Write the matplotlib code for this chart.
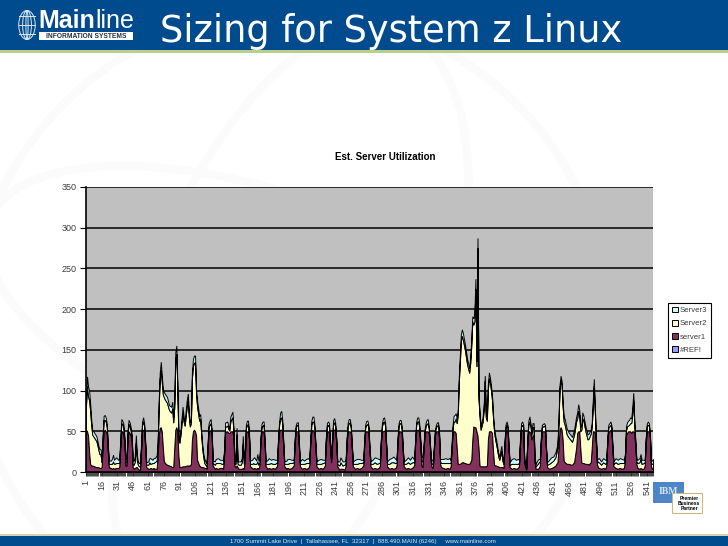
#!/usr/bin/env python3
# -*- coding: utf-8 -*-

import matplotlib
matplotlib.use("Agg")
import matplotlib.pyplot as plt
from matplotlib.patches import Ellipse, Rectangle

W, H = 728, 546

# values, one line per stretch of the chart
sample_no = [
    1, 2, 3, 4, 5, 6, 7, 9, 11, 12, 13, 14, 15,
    16, 17, 18, 19, 20, 21, 22, 23, 25, 26, 27, 28, 30, 32, 33,
    34, 35, 36, 37, 38, 39, 40, 41, 42, 43, 44, 45, 46, 47, 48, 49, 50, 51, 52, 53,
    54, 55, 56, 57, 58, 59, 61, 62, 63, 65, 66, 67, 69,
    70, 71, 72, 73, 74, 75, 76, 77, 79, 81, 83, 84, 85,
    86, 87, 88, 89, 90, 91, 92, 94, 95, 96, 98, 99, 100, 101, 102,
    103, 104, 105, 106, 107, 108, 110, 111, 112, 113, 114, 115, 116, 117,
    118, 119, 120, 121, 122, 123, 125, 126, 128, 130, 132, 133,
    134, 135, 136, 137, 138, 139, 140, 141, 142, 143, 144, 145, 146, 147, 148, 150, 151, 152, 153,
    154, 155, 156, 157, 158, 159, 161, 162, 163, 165, 166, 167,
    168, 169, 170, 171, 172, 173, 174, 176, 177, 179, 181, 183,
    185, 186, 187, 188, 189, 190, 191, 192, 194, 195, 197, 199,
    201, 202, 203, 204, 205, 206, 207, 209, 211, 213, 215,
    216, 217, 218, 219, 220, 221, 222, 223, 225, 227, 229,
    231, 232, 233, 234, 235, 236, 237, 238, 239, 240, 241, 242, 243, 245, 246, 248, 250,
    251, 252, 253, 254, 255, 256, 257, 258, 260, 262, 264, 266,
    268, 269, 270, 271, 272, 273, 274, 275, 277, 279, 281, 283,
    284, 285, 286, 287, 288, 289, 290, 291, 293, 295, 297, 299,
    300, 301, 302, 303, 304, 305, 306, 307, 309, 311, 313, 315,
    317, 318, 319, 320, 321, 322, 323, 324, 325, 326, 327, 328, 329, 330, 331, 332, 333, 334, 335,
    336, 337, 338, 339, 340, 341, 342, 343, 345, 347, 349, 351, 352,
    353, 354, 355, 356, 357, 358, 359, 360, 361, 362, 363, 364, 366, 368, 370,
    371, 372, 373, 374, 375, 376, 377, 378, 379, 380, 381, 383, 384, 385, 386, 387,
    388, 389, 390, 391, 392, 393, 394, 395, 396, 397, 398, 399, 400, 401, 402, 403,
    404, 405, 406, 407, 408, 409, 411, 413, 415, 417,
    418, 419, 420, 421, 422, 423, 424, 425,
    426, 427, 428, 429, 430, 431, 432, 433, 434, 436, 437, 438,
    439, 440, 441, 442, 443, 444, 445, 447, 449, 451, 453, 454, 455,
    456, 457, 458, 459, 460, 461, 462, 464, 466, 468, 469, 471,
    473, 474, 475, 476, 477, 478, 479, 480, 482, 484, 485, 487,
    488, 489, 490, 491, 492, 493, 494, 495, 497, 499, 501,
    502, 503, 504, 505, 506, 507, 508, 509, 511, 513, 515, 517, 519,
    520, 521, 522, 523, 524, 525, 526, 527, 528, 529, 530, 531, 532, 534, 535, 536, 538,
    539, 540, 541, 542, 543, 544, 545, 546, 547,
]
server1 = [
    52, 50, 45, 25, 10, 8, 8, 7, 6, 6, 6, 5, 5,
    6, 30, 50, 52, 50, 47, 25, 6, 5, 4, 5, 4, 5, 5, 6,
    30, 50, 50, 46, 35, 8, 8, 40, 50, 48, 45, 38, 6, 4, 5, 6, 6, 4, 3, 3,
    25, 50, 52, 50, 30, 6, 4, 4, 5, 4, 5, 4, 4,
    20, 45, 54, 55, 50, 30, 14, 11, 9, 8, 7, 6, 6,
    30, 52, 55, 50, 20, 6, 6, 7, 7, 7, 8, 8, 8, 8, 10,
    40, 50, 52, 50, 45, 15, 8, 7, 6, 6, 6, 5, 5, 4,
    25, 50, 50, 52, 45, 8, 4, 5, 4, 5, 5, 4,
    20, 48, 50, 50, 48, 48, 50, 50, 50, 42, 8, 6, 8, 6, 4, 4, 4, 5, 4,
    20, 48, 50, 50, 40, 7, 5, 4, 5, 4, 5, 4,
    8, 35, 50, 50, 50, 33, 7, 4, 5, 4, 5, 4,
    8, 35, 50, 52, 52, 50, 30, 7, 4, 5, 4, 5,
    8, 35, 50, 50, 50, 30, 7, 4, 5, 4, 5,
    8, 35, 50, 52, 50, 48, 28, 7, 4, 5, 4,
    8, 35, 50, 50, 48, 30, 12, 35, 52, 52, 50, 35, 7, 3, 4, 4, 3,
    8, 35, 50, 50, 50, 48, 28, 7, 4, 5, 4, 5,
    8, 35, 50, 50, 50, 48, 25, 7, 4, 5, 4, 5,
    8, 35, 50, 50, 51, 50, 30, 7, 4, 5, 4, 5,
    8, 35, 50, 50, 50, 48, 25, 7, 4, 5, 4, 5,
    8, 35, 50, 52, 52, 48, 30, 8, 6, 25, 45, 50, 50, 50, 48, 35, 12, 6, 5,
    25, 45, 50, 50, 50, 42, 10, 6, 5, 4, 5, 4, 6,
    25, 48, 50, 50, 48, 30, 10, 10, 10, 11, 12, 12, 11, 10, 10,
    12, 15, 40, 56, 55, 55, 50, 45, 30, 8, 7, 7, 7, 7, 7, 8,
    40, 50, 50, 50, 48, 25, 9, 8, 8, 7, 7, 6, 6, 6, 6, 5,
    30, 50, 52, 50, 25, 6, 4, 5, 4, 5,
    8, 35, 50, 52, 50, 12, 5, 3,
    35, 50, 50, 48, 40, 45, 45, 12, 4, 4, 5, 8,
    35, 50, 50, 50, 50, 25, 6, 4, 5, 6, 8, 10, 12,
    30, 52, 55, 52, 40, 14, 12, 10, 10, 9, 9, 12,
    30, 48, 50, 50, 30, 12, 11, 11, 10, 10, 9, 12,
    30, 50, 50, 48, 35, 10, 6, 5, 4, 5, 4,
    8, 35, 50, 50, 52, 50, 25, 7, 5, 4, 5, 4, 5,
    15, 45, 48, 50, 50, 50, 48, 50, 50, 48, 30, 10, 5, 4, 5, 4, 4,
    8, 35, 50, 50, 50, 42, 8, 4, 5,
]
server2 = [
    30, 55, 48, 63, 65, 50, 38, 35, 32, 27, 21, 17, 17,
    6, 10, 14, 12, 12, 8, 5, 4, 5, 6, 8, 6, 6, 6, 5,
    5, 10, 9, 8, 4, 4, 5, 6, 9, 8, 6, 4, 4, 5, 8, 30, 8, 5, 4, 4,
    5, 8, 10, 6, 4, 3, 5, 8, 5, 7, 6, 8, 10,
    12, 35, 60, 70, 60, 65, 78, 78, 76, 68, 66, 72, 55,
    50, 85, 90, 50, 20, 30, 40, 65, 55, 50, 72, 80, 60, 48, 50,
    75, 80, 82, 85, 50, 65, 55, 58, 38, 22, 12, 6, 4, 3,
    4, 5, 8, 8, 4, 3, 5, 6, 7, 6, 5, 6,
    4, 8, 6, 7, 5, 3, 12, 15, 17, 8, 3, 4, 38, 4, 5, 5, 8, 30, 6,
    4, 6, 8, 9, 4, 3, 5, 7, 5, 6, 8, 5,
    4, 4, 5, 7, 8, 4, 3, 6, 5, 7, 5, 6,
    4, 5, 8, 14, 15, 9, 4, 3, 6, 5, 7, 6,
    4, 4, 5, 8, 7, 4, 3, 6, 5, 7, 6,
    4, 4, 8, 10, 12, 6, 3, 3, 6, 5, 7,
    4, 5, 6, 8, 7, 4, 2, 4, 7, 9, 6, 4, 3, 5, 8, 4, 6,
    4, 4, 6, 10, 11, 6, 3, 3, 6, 5, 7, 6,
    4, 4, 6, 8, 9, 6, 3, 3, 6, 7, 6, 6,
    4, 4, 6, 11, 11, 7, 4, 3, 6, 7, 8, 6,
    4, 4, 6, 10, 10, 5, 3, 3, 6, 7, 6, 7,
    4, 4, 8, 10, 10, 6, 5, 6, 7, 4, 4, 6, 9, 10, 6, 3, 3, 4, 5,
    4, 4, 5, 7, 8, 4, 3, 5, 6, 7, 6, 7, 5,
    4, 6, 12, 12, 18, 30, 60, 100, 125, 150, 155, 150, 138, 122, 112,
    122, 140, 145, 125, 130, 170, 80, 230, 60, 60, 45, 55, 70, 105, 60, 55,
    62, 65, 60, 50, 40, 40, 40, 32, 26, 20, 12, 9, 14, 20, 8, 5,
    4, 5, 6, 4, 3, 3, 6, 5, 6, 5,
    4, 4, 6, 6, 5, 3, 3, 2,
    4, 8, 12, 8, 6, 10, 10, 3, 3, 6, 7, 5,
    4, 5, 6, 7, 5, 3, 3, 6, 7, 8, 10, 14, 18,
    30, 50, 58, 55, 40, 48, 46, 36, 32, 30, 28, 34,
    32, 18, 25, 20, 20, 40, 55, 52, 40, 30, 32, 35,
    25, 30, 56, 25, 6, 5, 6, 7, 5, 7, 6,
    4, 4, 5, 6, 6, 4, 3, 3, 7, 6, 6, 7, 6,
    5, 6, 8, 7, 8, 10, 12, 20, 38, 10, 5, 3, 6, 8, 12, 6, 7,
    4, 4, 6, 8, 7, 4, 3, 6, 6,
]
server3 = [
    8, 12, 12, 12, 10, 7, 6, 6, 6, 5, 5, 6, 6,
    4, 4, 5, 6, 5, 4, 4, 4, 4, 6, 8, 5, 7, 4, 5,
    4, 5, 4, 5, 4, 4, 4, 4, 5, 5, 4, 4, 4, 5, 7, 9, 6, 4, 4, 4,
    4, 4, 5, 4, 4, 3, 4, 5, 7, 4, 6, 5, 6,
    5, 6, 8, 10, 8, 7, 6, 7, 7, 6, 7, 8, 6,
    6, 10, 10, 8, 5, 4, 5, 8, 6, 5, 8, 8, 6, 5, 5,
    7, 9, 9, 8, 6, 7, 6, 6, 5, 5, 4, 5, 4, 4,
    3, 4, 5, 5, 3, 3, 4, 5, 6, 4, 5, 4,
    4, 5, 5, 5, 4, 3, 6, 6, 7, 4, 3, 4, 8, 3, 4, 4, 5, 9, 4,
    3, 4, 5, 4, 3, 4, 5, 6, 8, 4, 9, 5,
    3, 3, 4, 5, 4, 3, 3, 5, 7, 4, 6, 5,
    3, 3, 4, 7, 8, 5, 3, 3, 4, 6, 5, 4,
    3, 3, 3, 3, 4, 3, 3, 6, 4, 5, 6,
    3, 3, 5, 6, 6, 4, 3, 3, 5, 6, 4,
    3, 3, 4, 4, 5, 4, 2, 3, 5, 5, 4, 3, 3, 5, 6, 5, 4,
    3, 3, 4, 5, 4, 3, 3, 3, 5, 6, 5, 4,
    3, 3, 3, 5, 4, 3, 3, 3, 5, 6, 7, 5,
    3, 3, 4, 5, 5, 4, 3, 3, 6, 5, 7, 5,
    3, 3, 4, 4, 4, 3, 3, 3, 5, 6, 5, 7,
    3, 3, 4, 5, 5, 4, 4, 6, 5, 3, 3, 4, 5, 5, 3, 3, 3, 4, 5,
    3, 3, 3, 4, 3, 3, 3, 5, 5, 6, 5, 6, 4,
    3, 4, 7, 8, 6, 6, 6, 7, 8, 8, 8, 8, 7, 7, 6,
    6, 7, 6, 8, 9, 12, 6, 12, 5, 5, 5, 6, 6, 6, 5, 5,
    6, 7, 6, 6, 5, 4, 5, 5, 5, 4, 4, 4, 6, 6, 4, 3,
    3, 3, 4, 3, 3, 3, 6, 7, 5, 6,
    3, 3, 4, 4, 3, 2, 2, 2,
    3, 5, 6, 4, 4, 5, 5, 3, 3, 5, 4, 3,
    3, 3, 3, 3, 3, 3, 3, 5, 6, 5, 6, 5, 5,
    4, 5, 5, 5, 5, 6, 7, 7, 6, 6, 6, 6,
    6, 7, 8, 6, 5, 6, 7, 6, 6, 6, 6, 5,
    5, 7, 8, 6, 4, 3, 4, 5, 4, 5, 5,
    3, 3, 3, 4, 4, 3, 3, 3, 5, 5, 6, 5, 4,
    3, 5, 5, 6, 6, 7, 6, 8, 9, 5, 4, 3, 4, 5, 5, 5, 4,
    3, 3, 3, 4, 3, 3, 3, 4, 5,
]
ref_values = [0] * len(sample_no)

x_labels = list(range(1, 542, 15))
y_labels = [0, 50, 100, 150, 200, 250, 300, 350]
series_names = ["#REF!", "server1", "Server2", "Server3"]
series_colors = ["#9999FF", "#84305F", "#FFFFCC", "#CCFFFF"]

BLUE = "#004B8D"
FONT = "Liberation Sans"
GREY = "#3C3C3C"

fig = plt.figure(figsize=(W / 100, H / 100), dpi=100, facecolor="white")

# slide furniture, in pixel coordinates
bg = fig.add_axes([0, 0, 1, 1], zorder=0)
bg.set_xlim(0, W)
bg.set_ylim(H, 0)
bg.axis("off")

# faint globe watermark
for cx, cy, ew, eh, ang in [(290, 330, 640, 640, 0), (290, 330, 300, 640, 20),
                            (290, 330, 640, 260, 20)]:
    bg.add_patch(Ellipse((cx, cy), ew, eh, angle=ang, fill=False, ec="#FBFBFB", lw=6))

bg.add_patch(Rectangle((0, 0), W, 50, fc=BLUE, ec="none"))
bg.add_patch(Rectangle((0, 50), W, 3, fc="#B7D08E", ec="none"))
bg.add_patch(Rectangle((0, 534), W, 2, fc="#D8D2B0", ec="none"))
bg.add_patch(Rectangle((0, 536), W, 10, fc=BLUE, ec="none"))

# logo
for ew in [30, 16, 4]:
    bg.add_patch(Ellipse((27, 25), ew * 0.55, 29, fill=False, ec="#DDE6F0", lw=0.7))
for yy in [16, 25, 34]:
    bg.plot([19, 35], [yy, yy], color="#DDE6F0", lw=0.7)
bg.text(38, 28, "Main", color="white", fontsize=18, fontweight="bold", family=FONT,
        va="baseline", ha="left")
bg.text(95, 28, "line", color="white", fontsize=18, family=FONT, va="baseline", ha="left")
bg.add_patch(Rectangle((39, 32), 94, 8, fc="white", ec="none"))
bg.text(86, 36, "INFORMATION SYSTEMS", color="#1F2F45", fontsize=4.8, fontweight="bold",
        family=FONT, va="center", ha="center")

bg.text(160, 31, "Sizing for System z Linux", color="white", fontsize=26.5,
        family="DejaVu Sans", va="center", ha="left")
bg.text(230, 541.5, "1700 Summit Lake Drive  |  Tallahassee, FL  32317  |  888.490.MAIN (6246)     www.mainline.com",
        color="#DCE6F0", fontsize=4.45, family=FONT, va="center", ha="left")
bg.text(385, 157, "Est. Server Utilization", color="black", fontsize=7, fontweight="bold",
        family=FONT, va="center", ha="center")

# IBM partner badge
bg.add_patch(Rectangle((653, 482), 31, 21, fc="#4D86C6", ec="none"))
bg.text(668, 492, "IBM", color="#D5E3F3", fontsize=7, fontweight="bold", family="Liberation Serif",
        va="center", ha="center")
bg.add_patch(Rectangle((672, 493), 30, 20, fc="white", ec="#C9B77C", lw=0.8))
bg.text(689, 503.5, "Premier\nBusiness\nPartner", color="black", fontsize=3.6, fontweight="bold",
        family=FONT, va="center", ha="center", linespacing=1.05)

# chart
ax = fig.add_axes([86 / W, 1 - 472 / H, (653 - 86) / W, (472 - 187) / H], zorder=1)
ax.set_facecolor("#C0C0C0")
ax.stackplot(sample_no, ref_values, server1, server2, server3, colors=series_colors,
             labels=series_names, edgecolor="black", linewidth=0.7)
ax.set_xlim(1, 547)
ax.set_ylim(0, 350)
ax.set_axisbelow(True)
ax.yaxis.grid(True, color="black", linewidth=1.1)
ax.set_yticks(y_labels)
ax.set_xticks(x_labels)
ax.set_xticks(range(1, 548), minor=True)
ax.tick_params(axis="y", length=4, width=0.8, labelsize=6.5, labelcolor=GREY, pad=3)
ax.tick_params(axis="x", which="major", length=3, width=0.6, labelsize=6.5, labelcolor=GREY,
               labelrotation=90, pad=3)
ax.tick_params(axis="x", which="minor", length=3, width=0.5)
for lab in ax.get_xticklabels() + ax.get_yticklabels():
    lab.set_family(FONT)
for name in ["top", "right"]:
    ax.spines[name].set_visible(False)
ax.spines["left"].set_linewidth(1.2)
ax.spines["bottom"].set_linewidth(1.2)

handles, labels = ax.get_legend_handles_labels()
leg = ax.legend(handles[::-1], labels[::-1], loc="upper left",
                bbox_to_anchor=(668 / W, 1 - 303 / H), bbox_transform=fig.transFigure,
                fancybox=False, framealpha=1, edgecolor="black", borderpad=0.45,
                labelspacing=0.72, handlelength=0.8, handleheight=0.8, handletextpad=0.3,
                borderaxespad=0, prop={"family": FONT, "size": 5.6})
leg.get_frame().set_linewidth(0.8)
for text in leg.get_texts():
    text.set_color(GREY)

fig.savefig("out.png", dpi=100)
